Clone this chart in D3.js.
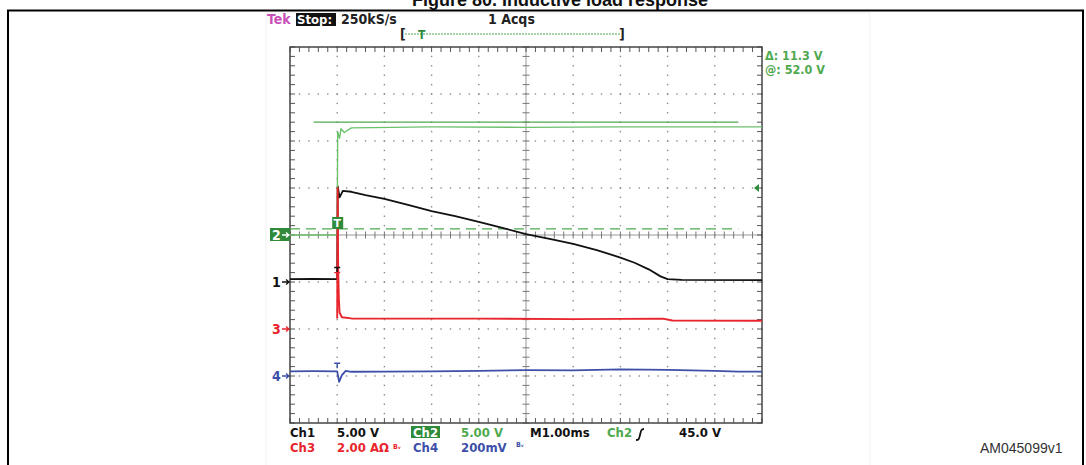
<!DOCTYPE html>
<html>
<head>
<meta charset="utf-8">
<script src="https://cdn.jsdelivr.net/npm/d3@7"></script>
<style>
  body { margin: 0; background: #fff; }
  svg { display: block; }
  text { font-family: "DejaVu Sans", sans-serif; }
  .scope { font-family: "DejaVu Sans Condensed", "DejaVu Sans", sans-serif; font-stretch: condensed; font-weight: bold; }
</style>
</head>
<body>
<svg id="chart" width="1086" height="465"></svg>
<script>
// time in ms (M1.00ms / div), trigger at 0
const timeDomain = [-1, 9];
const divDomain = [-4, 4];

// Ch1 (5.00 V/div) - black
const ch1Points = [[-1, 0.3], [-0.5, 0.32], [0, 0.3], [0.01, 10.2], [0.05, 9.0], [0.12, 9.7], [0.3, 9.6],
  [0.6, 9.25], [1, 8.85], [1.5, 8.2], [2, 7.55], [2.5, 7.0], [3, 6.4], [3.5, 5.75], [4, 5.1], [4.5, 4.6],
  [5, 4.05], [5.5, 3.4], [6, 2.6], [6.3, 2.05], [6.6, 1.35], [6.85, 0.6], [7.0, 0.3], [7.3, 0.22], [9, 0.2]];
// Ch2 (5.00 V/div) - green
const ch2Points = [[-1, 0], [0, 0], [0.01, 11.0], [0.05, 10.3], [0.08, 11.3], [0.15, 10.9], [0.3, 11.4],
  [2, 11.5], [4, 11.45], [6, 11.5], [9, 11.5]];
// Ch3 (2.00 A/div) - red
const ch3Points = [[0, 0.45], [0.01, 6.0], [0.02, 2.6], [0.035, 1.3], [0.05, 0.7], [0.1, 0.5], [0.3, 0.45],
  [3, 0.44], [5, 0.42], [6.9, 0.44], [7.1, 0.36], [9, 0.35]];
// Ch4 (200 mV/div) - blue
const ch4Points = [[-1, 20], [-0.5, 21], [0, 20], [0.04, -25], [0.1, 4], [0.18, 22], [0.3, 18], [1, 19],
  [2, 20], [3, 22], [4, 25], [5, 24], [6, 28], [7, 26], [8, 22], [8.5, 19], [9, 19]];

// cursor / trigger readings
const cursorLevel = 12.0;   // Ch2, volts
const triggerLine = 0.65;   // Ch2, volts (dashed)
const readoutTop = ["Tek", "Stop:", "250kS/s", "1 Acqs"];
const readoutCursor = ["\u0394: 11.3 V", "@: 52.0 V"];
const readoutRow1 = ["Ch1", "5.00 V", "Ch2", "5.00 V", "M1.00ms", "Ch2", "45.0 V"];
const readoutRow2 = ["Ch3", "2.00 A\u03A9", "Ch4", "200mV"];

const svg = d3.select("#chart");
const GREEN = "#4fa94f", GREEN_DK = "#2f8a3a", RED = "#e8252c", BLUE = "#3d4fa8";

// cadre exterieur + titre coupe
svg.append("text").attr("x", 560).attr("y", 6).attr("text-anchor", "middle")
  .style("font-family", "'Liberation Sans', Arial, sans-serif").style("font-weight", "bold")
  .style("font-size", "18px").attr("fill", "#111").text("Figure 80. Inductive load response");
svg.append("rect").attr("x", 8).attr("y", 10.5).attr("width", 1075).attr("height", 470)
  .attr("fill", "none").attr("stroke", "#000").attr("stroke-width", 2);
svg.append("rect").attr("x", 266).attr("y", 13).attr("width", 604).attr("height", 460)
  .attr("fill", "none").attr("stroke", "#f1f1f1");

// scales
const x = d3.scaleLinear().domain(timeDomain).range([290, 762]);
const y = d3.scaleLinear().domain(divDomain).range([423, 47]);

const grid = svg.append("g");
const minorT = d3.range(timeDomain[0], timeDomain[1] + 0.001, 0.2);
const minorD = d3.range(divDomain[0], divDomain[1] + 0.001, 0.2);
const majorT = d3.range(timeDomain[0] + 1, timeDomain[1], 1);
const majorD = d3.range(divDomain[0] + 1, divDomain[1], 1);

// points de la grille (pointilles)
majorT.filter(t => t !== 4).forEach(t => {
  grid.selectAll(null).data(minorD).join("rect")
    .attr("x", x(t) - 0.7).attr("y", d => y(d) - 0.7).attr("width", 1.4).attr("height", 1.4).attr("fill", "#8a8a8a");
});
majorD.filter(d => d !== 0).forEach(dv => {
  grid.selectAll(null).data(minorT).join("rect")
    .attr("x", d => x(d) - 0.7).attr("y", y(dv) - 0.7).attr("width", 1.4).attr("height", 1.4).attr("fill", "#8a8a8a");
});
// axes centraux avec graduations
grid.append("line").attr("x1", x(timeDomain[0])).attr("x2", x(timeDomain[1])).attr("y1", y(0)).attr("y2", y(0))
  .attr("stroke", "#9a9a9a").attr("stroke-width", 1);
grid.append("line").attr("x1", x(4)).attr("x2", x(4)).attr("y1", y(divDomain[0])).attr("y2", y(divDomain[1]))
  .attr("stroke", "#9a9a9a").attr("stroke-width", 1);
grid.selectAll(null).data(minorT).join("line")
  .attr("x1", d => x(d)).attr("x2", d => x(d)).attr("y1", y(0) - 3.5).attr("y2", y(0) + 3.5).attr("stroke", "#777");
grid.selectAll(null).data(minorD).join("line")
  .attr("y1", d => y(d)).attr("y2", d => y(d)).attr("x1", x(4) - 3.5).attr("x2", x(4) + 3.5).attr("stroke", "#777");
// graduations du bord
grid.selectAll(null).data(minorT).join("line")
  .attr("x1", d => x(d)).attr("x2", d => x(d)).attr("y1", y(divDomain[1])).attr("y2", y(divDomain[1]) + 5).attr("stroke", "#555");
grid.selectAll(null).data(minorT).join("line")
  .attr("x1", d => x(d)).attr("x2", d => x(d)).attr("y1", y(divDomain[0])).attr("y2", y(divDomain[0]) - 5).attr("stroke", "#555");
grid.selectAll(null).data(minorD).join("line")
  .attr("y1", d => y(d)).attr("y2", d => y(d)).attr("x1", x(timeDomain[0])).attr("x2", x(timeDomain[0]) + 5).attr("stroke", "#555");
grid.selectAll(null).data(minorD).join("line")
  .attr("y1", d => y(d)).attr("y2", d => y(d)).attr("x1", x(timeDomain[1])).attr("x2", x(timeDomain[1]) - 5).attr("stroke", "#555");
grid.append("rect").attr("x", x(timeDomain[0])).attr("y", y(divDomain[1]))
  .attr("width", x(timeDomain[1]) - x(timeDomain[0])).attr("height", y(divDomain[0]) - y(divDomain[1]))
  .attr("fill", "none").attr("stroke", "#444").attr("stroke-width", 1.5);

// niveau de declenchement (tirets) et curseur
grid.append("line").attr("x1", x(-1)).attr("x2", x(8.5)).attr("y1", y(triggerLine / 5)).attr("y2", y(triggerLine / 5))
  .attr("stroke", GREEN).attr("stroke-width", 1.3).attr("stroke-dasharray", "10,6");
grid.append("line").attr("x1", x(-0.5)).attr("x2", x(8.5)).attr("y1", y(cursorLevel / 5)).attr("y2", y(cursorLevel / 5))
  .attr("stroke", GREEN).attr("stroke-width", 1.3);

// traces
const channels = [
  { pts: ch1Points, perDiv: 5, ref: -1, color: "#111", w: 1.8 },
  { pts: ch2Points, perDiv: 5, ref: 0, color: "#6cc06c", w: 1.4 },
  { pts: ch3Points, perDiv: 2, ref: -2, color: RED, w: 1.9 },
  { pts: ch4Points, perDiv: 200, ref: -3, color: BLUE, w: 1.8 }
];
channels.forEach(c => {
  const line = d3.line().x(d => x(d[0])).y(d => y(c.ref + d[1] / c.perDiv));
  svg.append("path").datum(c.pts).attr("d", line).attr("fill", "none")
    .attr("stroke", c.color).attr("stroke-width", c.w).attr("stroke-linejoin", "round");
});
// petits marqueurs "T" au declenchement
[[-1, 0.45 / 5 + 0.22, "#111"], [-3, 0.27, BLUE], [-2, 1.2, RED]].forEach(([ref, dv, col]) => {
  const yy = y(ref + dv);
  svg.append("path").attr("d", `M${x(0) - 3},${yy}H${x(0) + 3}M${x(0)},${yy}v5`)
    .attr("stroke", col).attr("stroke-width", 1.4).attr("fill", "none");
});

// marqueurs de reference a gauche
const refMarks = [[0, "2", "#fff", GREEN_DK], [-1, "1", "#111", null], [-2, "3", RED, null], [-3, "4", BLUE, null]];
refMarks.forEach(([dv, lbl, col, bg]) => {
  const yy = y(dv);
  if (bg) svg.append("rect").attr("x", 270).attr("y", yy - 7).attr("width", 20).attr("height", 13).attr("fill", bg);
  svg.append("text").attr("class", "scope").attr("x", 272).attr("y", yy + 5).attr("fill", col)
    .style("font-size", "14px").text(lbl);
  svg.append("path").attr("d", `M${282},${yy}H${289}M${286},${yy - 2.5}L${289},${yy}L${286},${yy + 2.5}`)
    .attr("stroke", col).attr("stroke-width", 1.3).attr("fill", "none");
});
// T de declenchement
svg.append("rect").attr("x", x(0) - 5).attr("y", 217).attr("width", 11).attr("height", 12).attr("fill", GREEN_DK);
svg.append("text").attr("x", x(0)).attr("y", 227).attr("text-anchor", "middle").attr("fill", "#fff")
  .style("font-size", "11px").style("font-weight", "bold").text("T");
// fleche de niveau a droite
svg.append("path").attr("d", `M${x(9) - 8},${y(1)}l5,-4v8z`).attr("fill", GREEN_DK);

// textes du haut
const topG = svg.append("g").attr("class", "scope").style("font-size", "14px");
topG.append("text").attr("x", 267).attr("y", 24).attr("fill", "#c74fb8").text(readoutTop[0]);
topG.append("rect").attr("x", 296).attr("y", 13).attr("width", 40).attr("height", 13).attr("fill", "#111");
topG.append("text").attr("x", 297).attr("y", 24).attr("fill", "#fff").style("font-size", "13px").text(readoutTop[1]);
topG.append("text").attr("x", 341).attr("y", 24).attr("fill", "#222").text(readoutTop[2]);
topG.append("text").attr("x", 488).attr("y", 24).attr("fill", "#222").text(readoutTop[3]);
// barre d'enregistrement
topG.append("text").attr("x", 400).attr("y", 39).attr("fill", "#222").text("[");
topG.append("text").attr("x", 619).attr("y", 39).attr("fill", "#222").text("]");
topG.append("line").attr("x1", 405).attr("x2", 620).attr("y1", 34).attr("y2", 34)
  .attr("stroke", GREEN).attr("stroke-width", 1).attr("stroke-dasharray", "2,1");
topG.append("text").attr("x", 418).attr("y", 39).attr("fill", GREEN_DK).style("font-size", "12px").text("T");
// curseurs
readoutCursor.forEach((s, i) => {
  topG.append("text").attr("x", 765).attr("y", 60 + i * 13.5).attr("fill", GREEN).style("font-size", "12.5px").text(s);
});

// textes du bas
const bot = svg.append("g").attr("class", "scope").style("font-size", "13px");
const row1X = [290, 337, 413, 461, 530, 607, 679];
const row1C = ["#111", "#111", "#fff", GREEN, "#111", GREEN, "#111"];
bot.append("rect").attr("x", 411).attr("y", 426).attr("width", 29).attr("height", 12).attr("fill", GREEN_DK);
readoutRow1.forEach((s, i) => {
  bot.append("text").attr("x", row1X[i]).attr("y", 437).attr("fill", row1C[i]).text(s);
});
bot.append("path").attr("d", "M636,440c3,0 3,-1 4,-5s1,-6 4,-6").attr("stroke", "#111").attr("stroke-width", 1.8).attr("fill", "none");
const row2X = [290, 337, 413, 461];
const row2C = [RED, RED, BLUE, BLUE];
readoutRow2.forEach((s, i) => {
  bot.append("text").attr("x", row2X[i]).attr("y", 452).attr("fill", row2C[i]).text(s);
});
bot.append("text").attr("x", 393).attr("y", 449).attr("fill", RED).style("font-size", "7px").text("B\u1D65");
bot.append("text").attr("x", 516).attr("y", 447).attr("fill", BLUE).style("font-size", "7px").text("B\u1D65");

// reference du document
svg.append("text").attr("x", 980).attr("y", 453)
  .style("font-family", "'Liberation Sans', Arial, sans-serif").style("font-size", "14px")
  .attr("fill", "#333").text("AM045099v1");
</script>
</body>
</html>
